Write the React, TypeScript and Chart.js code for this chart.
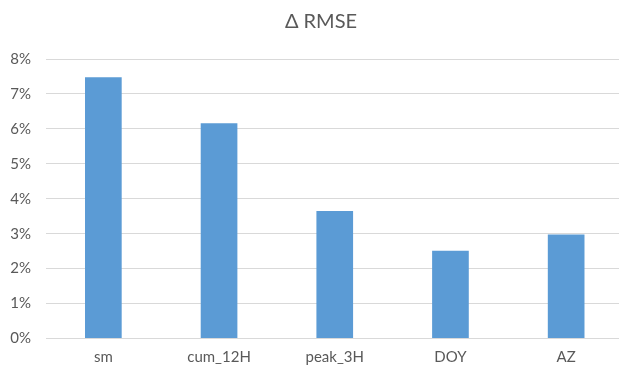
import React, { useEffect, useRef } from "react";
import { Chart, registerables } from "chart.js";

Chart.register(...registerables);

const categories = ["sm", "cum_12H", "peak_3H", "DOY", "AZ"];
const deltaRmse = [7.48, 6.16, 3.65, 2.51, 2.98];
const yTicks = [0, 1, 2, 3, 4, 5, 6, 7, 8];

const TEXT = "#595959";
const GRID = "#D9D9D9";
const BAR = "#5B9BD5";
const FONT = "Lato, 'Open Sans', sans-serif";

// Let the y tick labels spill into the left padding instead of being clipped.
const widenYLabelArea = {
  id: "widenYLabelArea",
  afterLayout(chart: any) {
    if (chart.scales.y) chart.scales.y.left = 0;
  },
};

export default function App() {
  const ref = useRef<HTMLCanvasElement | null>(null);

  useEffect(() => {
    document.body.style.margin = "0";
    const canvas = ref.current;
    if (!canvas) return;
    const chart = new Chart(canvas, {
      type: "bar",
      data: {
        labels: categories,
        datasets: [
          {
            label: "Δ RMSE",
            data: deltaRmse,
            backgroundColor: BAR,
            borderWidth: 0,
            barPercentage: 0.317,
            categoryPercentage: 1,
          },
        ],
      },
      plugins: [widenYLabelArea],
      options: {
        responsive: false,
        animation: false,
        devicePixelRatio: 1,
        layout: { padding: { left: 18, right: 18, top: 0, bottom: 0 } },
        plugins: {
          legend: { display: false },
          tooltip: { enabled: false },
          title: {
            display: true,
            text: "Δ RMSE",
            color: TEXT,
            font: { family: FONT, size: 20, weight: "normal" },
            padding: { top: 10, bottom: 25 },
          },
        },
        scales: {
          x: {
            grid: { display: false, drawTicks: false },
            border: { display: false },
            ticks: {
              color: TEXT,
              font: { family: FONT, size: 15 },
              padding: 10,
            },
            afterFit: (scale: any) => {
              scale.height = 27.5;
            },
          },
          y: {
            min: 0,
            max: 8,
            afterBuildTicks: (scale: any) => {
              scale.ticks = yTicks.map((v) => ({ value: v }));
            },
            grid: { color: GRID, lineWidth: 1, drawTicks: false },
            border: { display: false },
            ticks: {
              color: TEXT,
              font: { family: FONT, size: 15 },
              padding: 14.5,
              callback: (v: any) => `${v}%`,
            },
            afterFit: (scale: any) => {
              scale.width = 27.5;
            },
          },
        },
      },
    });
    return () => chart.destroy();
  }, []);

  return (
    <div style={{ width: 619, height: 366, overflow: "hidden", position: "relative", background: "#fff" }}>
      <canvas ref={ref} width={642} height={366} style={{ width: 642, height: 366, display: "block" }} />
    </div>
  );
}
